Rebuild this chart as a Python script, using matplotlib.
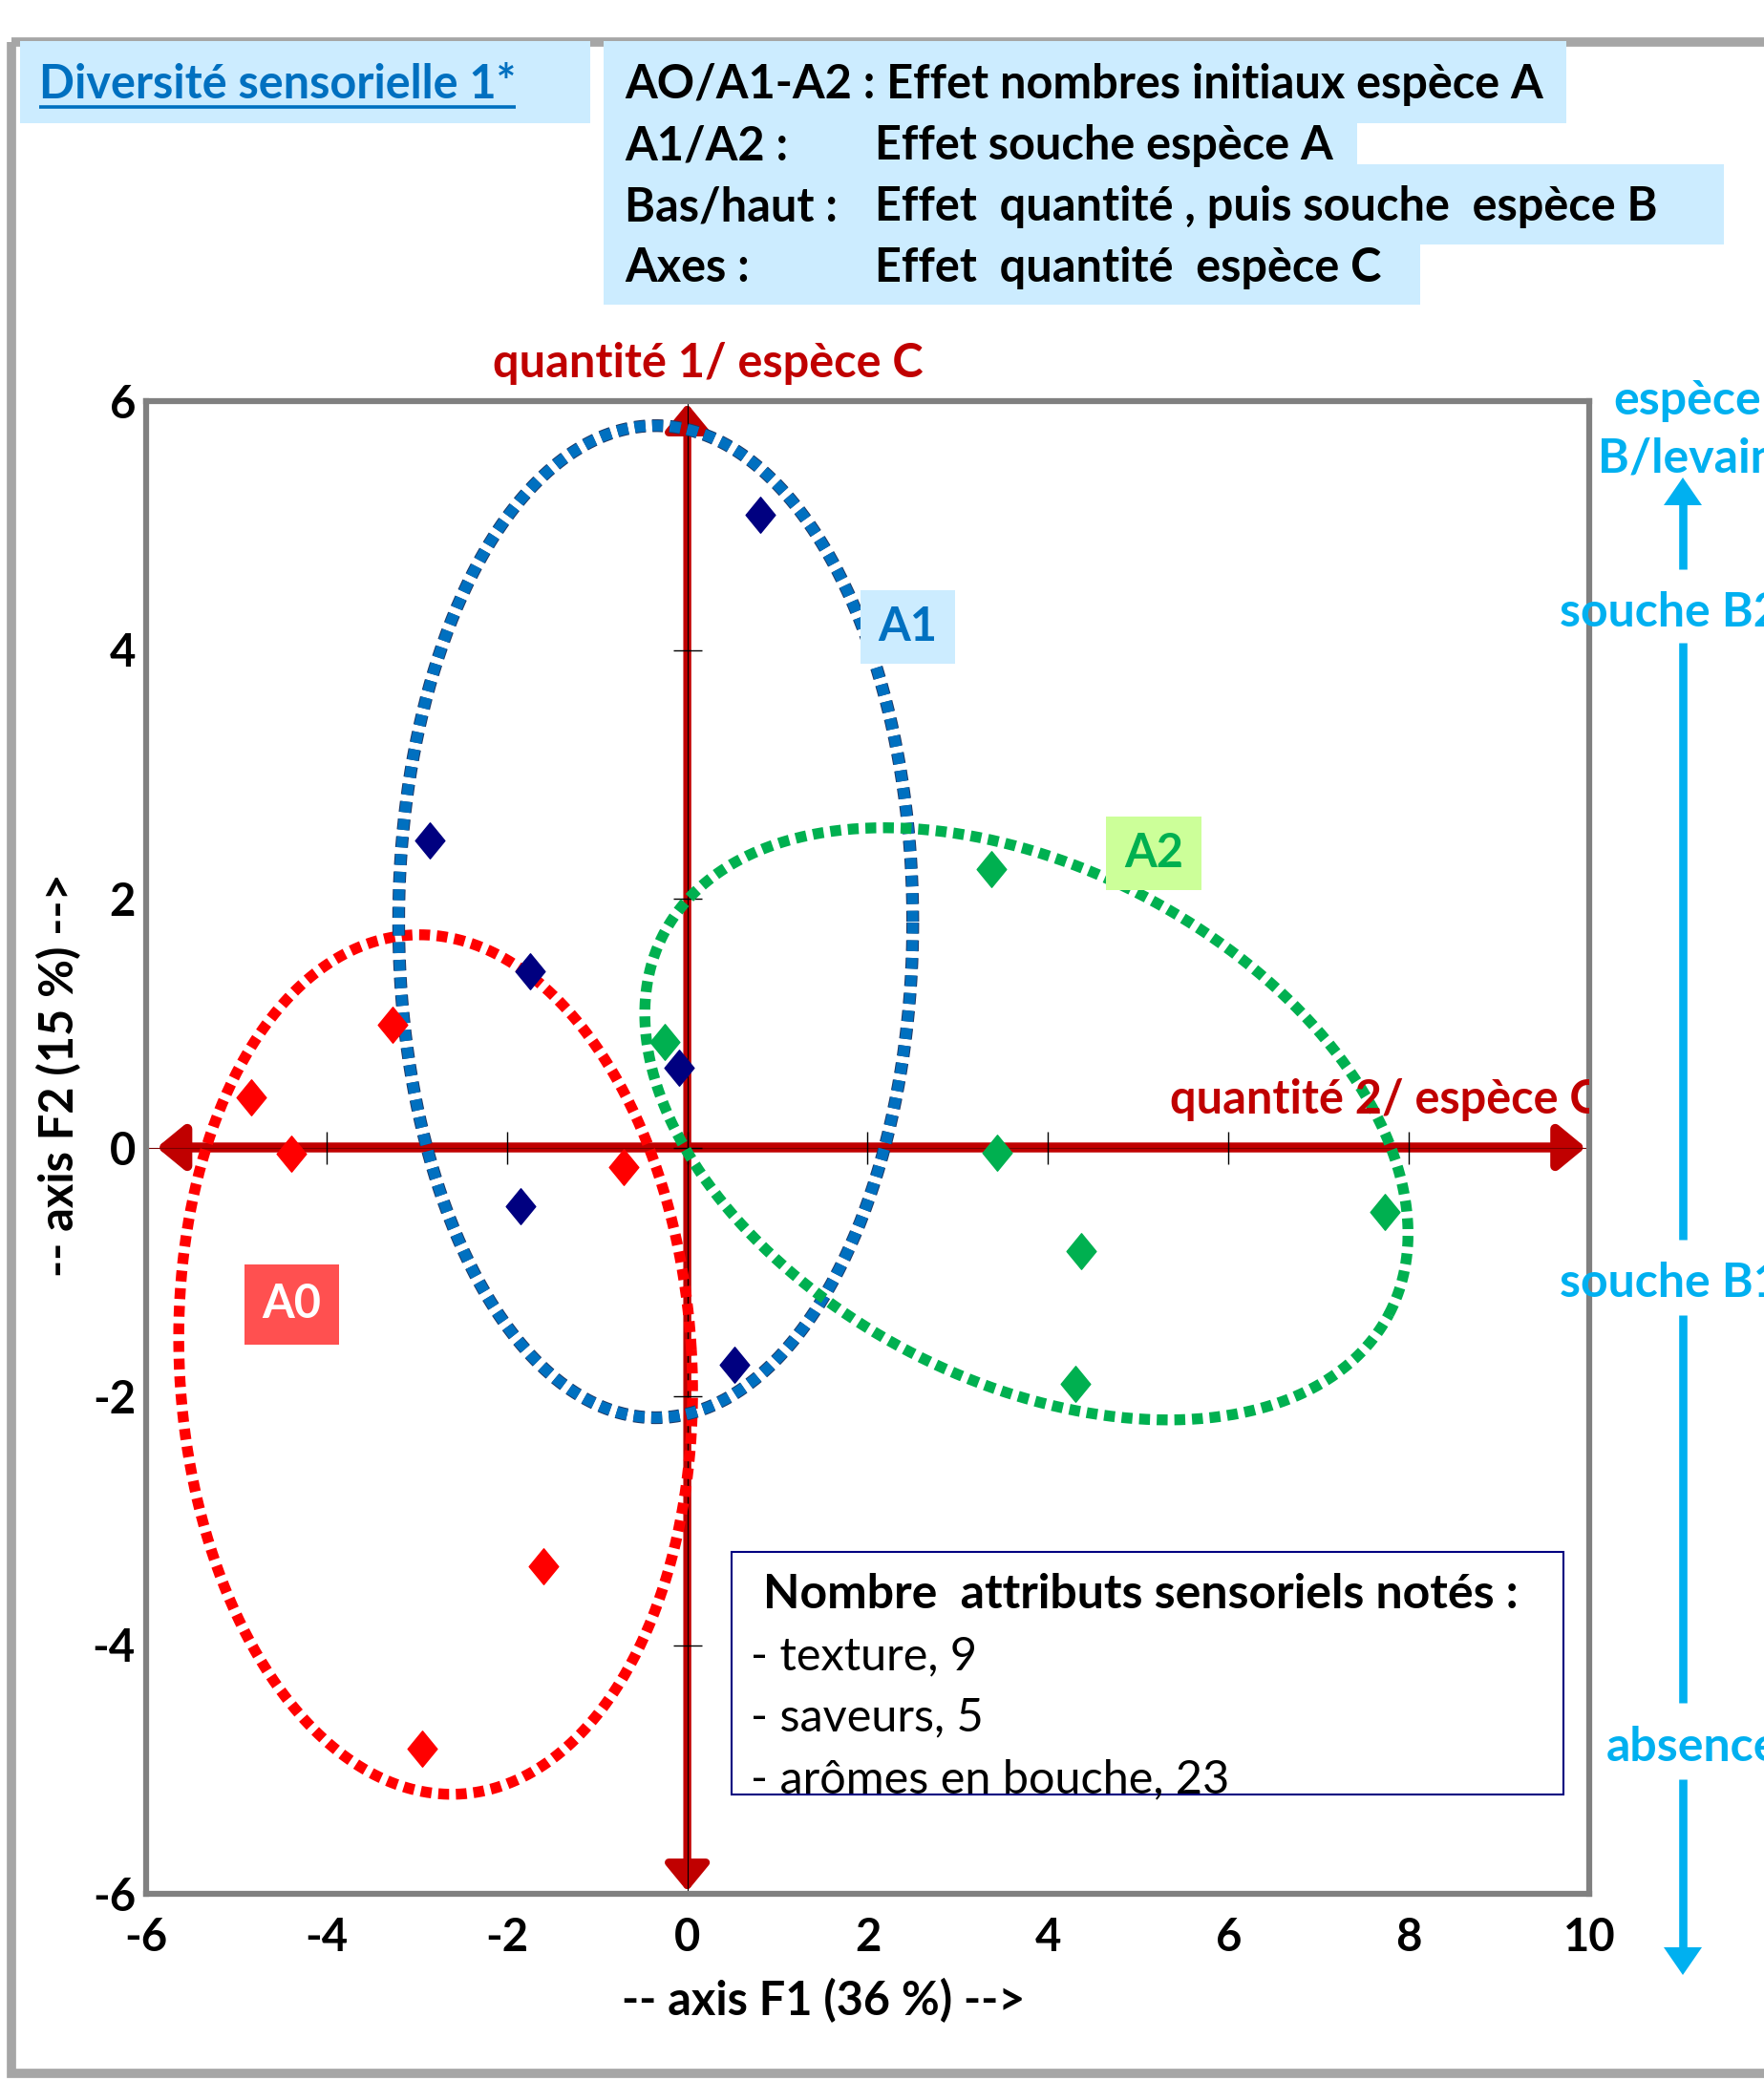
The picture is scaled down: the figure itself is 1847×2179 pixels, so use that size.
import matplotlib
matplotlib.use("Agg")
import matplotlib.pyplot as plt
import numpy as np
from matplotlib.patches import Rectangle, Polygon
from matplotlib.path import Path
import matplotlib.patheffects as pe

plt.rcParams['font.family'] = ['Lato', 'DejaVu Sans']

W, H = 1847, 2179
DPI = 100

# ---------------- data ----------------
a0_x = [-4.83, -4.39, -3.27, -0.71, -1.59, -2.94]
a0_y = [0.40, -0.05, 0.99, -0.16, -3.37, -4.83]
a1_x = [0.81, -2.86, -1.74, -0.09, -1.85, 0.52]
a1_y = [5.09, 2.47, 1.42, 0.64, -0.47, -1.75]
a2_x = [3.37, -0.25, 3.44, 7.73, 4.37, 4.30]
a2_y = [2.24, 0.85, -0.04, -0.52, -0.83, -1.90]

# group ellipses: centre x, centre y, semi-axis 1, semi-axis 2 (x-axis units), screen tilt (deg)
ell_a0 = (-2.79, -1.745, 2.84, 4.77, 3.3)
ell_a1 = (-0.35, 1.815, 2.85, 5.50, 0.0)
ell_a2 = (3.76, 0.19, 4.54, 2.84, -27.7)

x_ticks = [-6, -4, -2, 0, 2, 4, 6, 8, 10]
y_ticks = [-6, -4, -2, 0, 2, 4, 6]
x_lim = (-6, 10)
y_lim = (-6, 6)

header_left = ["", "A1/A2 :", "Bas/haut :", "Axes :"]
header_right = ["", "Effet souche espèce A",
                "Effet  quantité , puis souche  espèce B", "Effet  quantité  espèce C"]
header_first = "AO/A1-A2 : Effet nombres initiaux espèce A"
legend_title = "Nombre  attributs sensoriels notés :"
legend_lines = ["- texture, 9", "- saveurs, 5", "- arômes en bouche, 23"]
side_labels = ["espèce", "B/levain", "souche B2", "souche B1", "absence"]

RED_AX = '#C00000'
C_A0, C_A1, C_A2 = '#FF0000', '#000080', '#00B050'
C_E1 = '#0070C0'
SKY = '#00B0F0'
LBLUE = '#CCECFF'
FS = 35

fig = plt.figure(figsize=(W / DPI, H / DPI), dpi=DPI)
fig.patch.set_facecolor('white')

# main axes (frame in pixels: left 153, right 1664, top 420, bottom 1983)
L, R, T, B = 153, 1664, 420, 1983
ax = fig.add_axes([L / W, 1 - B / H, (R - L) / W, (B - T) / H])
ax.set_zorder(1)
ax.set_xlim(*x_lim)
ax.set_ylim(*y_lim)
ax.set_xticks(x_ticks)
ax.set_yticks(y_ticks)
ax.set_xticklabels([str(v) for v in x_ticks])
ax.set_yticklabels([str(v) for v in y_ticks])
ax.tick_params(axis='both', length=0, labelsize=34)
ax.tick_params(axis='x', pad=17)
ax.tick_params(axis='y', pad=8)
for lab in ax.get_xticklabels() + ax.get_yticklabels():
    lab.set_fontweight('bold')
for s in ax.spines.values():
    s.set_color('#808080')
    s.set_linewidth(4.5)


def ellipse_curve(params, n=600):
    cx, cy, w, h, ang = params
    t = np.linspace(0, 2 * np.pi, n)
    p0 = ax.transData.transform((cx, cy))
    ppx = ax.transData.transform((cx + 1, cy))[0] - p0[0]
    ex = w * ppx * np.cos(t)
    ey = h * ppx * np.sin(t)
    th = np.radians(ang)
    dx = ex * np.cos(th) - ey * np.sin(th)
    dy = ex * np.sin(th) + ey * np.cos(th)
    pts = ax.transData.inverted().transform(np.column_stack([p0[0] + dx, p0[1] + dy]))
    return pts[:, 0], pts[:, 1]


# red axis arrows
arrow_style = '<|-|>,head_length=17,head_width=14'
ax.annotate('', xy=(x_lim[1] - 0.04, 0), xytext=(x_lim[0] + 0.12, 0),
            arrowprops=dict(arrowstyle=arrow_style, color=RED_AX, lw=7.5,
                            mutation_scale=1, shrinkA=0, shrinkB=0), zorder=2)
ax.annotate('', xy=(0, y_lim[1] - 0.02), xytext=(0, y_lim[0] + 0.02),
            arrowprops=dict(arrowstyle=arrow_style, color=RED_AX, lw=6.0,
                            mutation_scale=1, shrinkA=0, shrinkB=0), zorder=2)
ax.axvline(0, color='black', lw=0.8, zorder=2.1)
ax.axhline(0, color='#7a0000', lw=0.8, zorder=2.1)
# cross ticks on the axis lines
ax.plot(x_ticks, [0] * len(x_ticks), ls='none', marker='|', ms=24, mew=1.0, color='black', zorder=2.2)
ax.plot([0] * len(y_ticks), y_ticks, ls='none', marker='_', ms=22, mew=1.0, color='black', zorder=2.2)

# ellipses
dotted = (0, (1, 0.62))
ELW = 8.2
ex, ey = ellipse_curve(ell_a0)
ax.plot(ex, ey, color=C_A0, lw=ELW, ls=dotted, dash_capstyle='butt', zorder=3)
ex, ey = ellipse_curve(ell_a1)
ax.plot(ex, ey, color=C_E1, lw=ELW, ls=dotted, dash_capstyle='butt', zorder=3,
        path_effects=[pe.Stroke(linewidth=ELW + 1.4, foreground='#1F3864'), pe.Normal()])
ex, ey = ellipse_curve(ell_a2)
ax.plot(ex, ey, color=C_A2, lw=ELW, ls=dotted, dash_capstyle='butt', zorder=3)

# points (tall diamonds)
diamond = Path([(0, 1), (0.82, 0), (0, -1), (-0.82, 0), (0, 1)],
               [Path.MOVETO, Path.LINETO, Path.LINETO, Path.LINETO, Path.CLOSEPOLY])
for xs, ys, c in [(a0_x, a0_y, C_A0), (a1_x, a1_y, C_A1), (a2_x, a2_y, C_A2)]:
    ax.plot(xs, ys, ls='none', marker=diamond, ms=27, color=c, mec=c, zorder=4)

# "quantité 2/ espèce C" (clipped by the frame)
ax.text(5.35, 0.276, "quantité 2/ espèce C", color=RED_AX, fontsize=FS, fontweight='bold',
        ha='left', va='baseline', clip_on=True, zorder=5)

# ---------------- overlay in pixel coordinates ----------------
ov = fig.add_axes([0, 0, 1, 1])
ov.set_zorder(2)
ov.set_xlim(0, W)
ov.set_ylim(H, 0)
ov.axis('off')

# outer chart border
ov.add_patch(Rectangle((12, 44), 1950, 2127, fill=False, edgecolor='#A6A6A6', lw=7, zorder=1))

# title box
ov.add_patch(Rectangle((21, 43), 597, 86, facecolor=LBLUE, edgecolor='none', zorder=2))
title = ov.text(41, 103, "Diversité sensorielle 1*", color=C_E1, fontsize=FS, fontweight='bold',
                ha='left', va='baseline', zorder=3)

# header boxes
for (x0, y0, x1, y1) in [(632, 43, 1640, 129), (632, 129, 1421, 172),
                         (632, 172, 1805, 256), (632, 256, 1487, 319)]:
    ov.add_patch(Rectangle((x0, y0), x1 - x0, y1 - y0, facecolor=LBLUE, edgecolor='none', zorder=2))
ov.text(654, 103, header_first, fontsize=FS, fontweight='bold', ha='left', va='baseline', zorder=3)
for i, (l, r) in enumerate(zip(header_left, header_right)):
    if not l:
        continue
    yb = 103 + 64 * i
    ov.text(654, yb, l, fontsize=FS, fontweight='bold', ha='left', va='baseline', zorder=3)
    ov.text(916, yb, r, fontsize=FS, fontweight='bold', ha='left', va='baseline', zorder=3)

# red label on top
ov.text(516, 395, "quantité 1/ espèce C", color=RED_AX, fontsize=FS, fontweight='bold',
        ha='left', va='baseline', zorder=3)

# group labels
for (x0, y0, w, h, fc, tc, txt) in [(901, 618, 99, 77, LBLUE, C_E1, "A1"),
                                    (1158, 855, 100, 77, '#CCFF99', C_A2, "A2"),
                                    (256, 1324, 99, 84, '#FF5050', 'white', "A0")]:
    ov.add_patch(Rectangle((x0, y0), w, h, facecolor=fc, edgecolor='none', zorder=2))
    ov.text(x0 + w / 2, y0 + h / 2, txt, color=tc, fontsize=FS, fontweight='bold',
            ha='center', va='center', zorder=3)

# legend box
ov.add_patch(Rectangle((766, 1625), 871, 254, facecolor='white', edgecolor='#000080', lw=1.5, zorder=2))
ov.text(799, 1684, legend_title, fontsize=36, fontweight='bold', ha='left', va='baseline', zorder=3)
for i, s in enumerate(legend_lines):
    ov.text(786, 1748 + 64.5 * i, s, fontsize=35, ha='left', va='baseline', zorder=3)

# axis titles
ov.text(862, 2095, "-- axis F1 (36 %) -->", fontsize=FS, fontweight='bold', ha='center', va='center', zorder=3)
ov.text(62, 1126, "-- axis F2 (15 %) -->", fontsize=FS, fontweight='bold', ha='center', va='center',
        rotation=90, zorder=3)

# right-hand sky-blue scale
AX_X = 1762
for s, xs, yc in zip(side_labels, [1689, 1673, 1633, 1633, 1682], [420, 480, 641, 1344, 1830]):
    ov.text(xs, yc, s, color=SKY, fontsize=36, fontweight='bold', ha='left', va='center', zorder=3)
for (y0, y1) in [(528, 596), (673, 1298), (1377, 1783), (1863, 2040)]:
    ov.plot([AX_X, AX_X], [y0, y1], color=SKY, lw=6.2, solid_capstyle='butt', zorder=2)
ov.add_patch(Polygon([(AX_X, 500), (AX_X - 20, 529), (AX_X + 20, 529)], closed=True,
                     facecolor=SKY, edgecolor='none', zorder=2))
ov.add_patch(Polygon([(AX_X, 2068), (AX_X - 20, 2039), (AX_X + 20, 2039)], closed=True,
                     facecolor=SKY, edgecolor='none', zorder=2))

# underline for title
fig.canvas.draw()
bb = title.get_window_extent(fig.canvas.get_renderer())
ov.plot([bb.x0, bb.x1], [112, 112], color=C_E1, lw=2.6, solid_capstyle='butt', zorder=3)

fig.savefig("out.png", dpi=DPI, facecolor='white')
